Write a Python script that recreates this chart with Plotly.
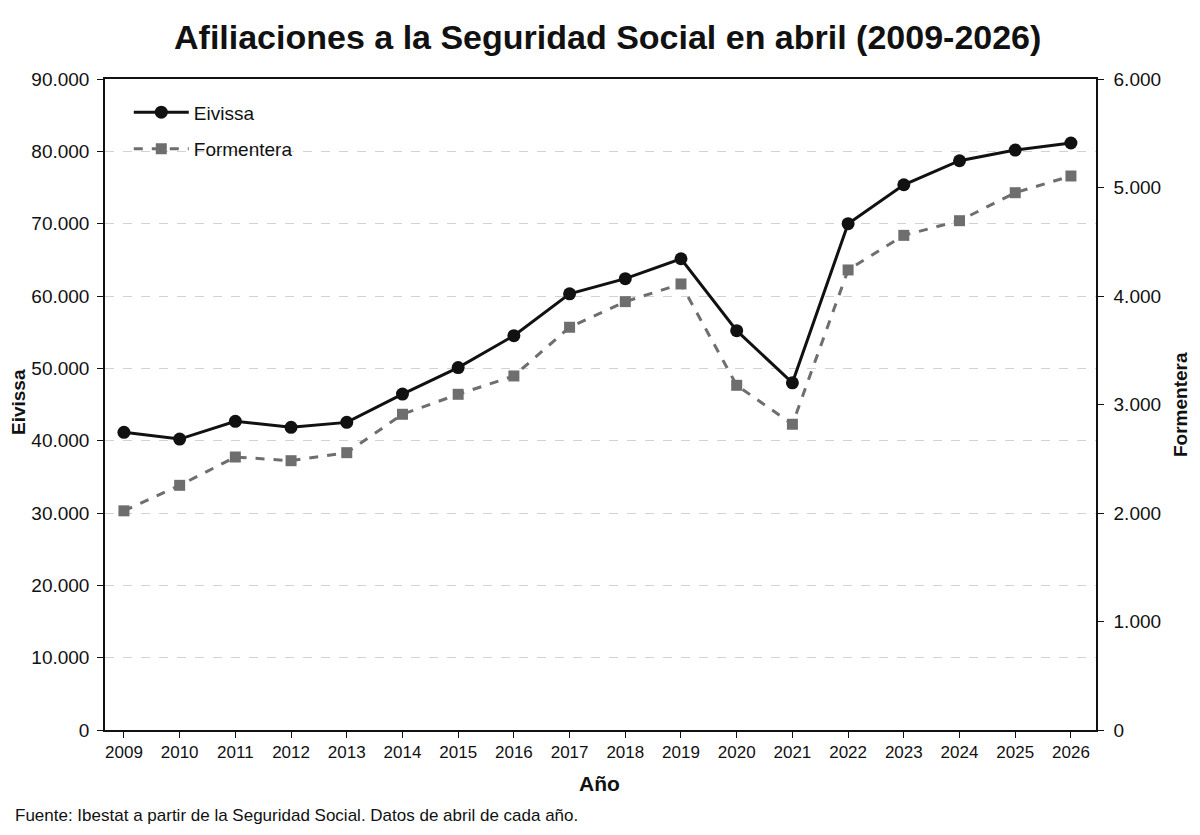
import plotly.graph_objects as go

years = list(range(2009, 2027))
eivissa = [41150, 40220, 42670, 41840, 42530, 46440, 50100, 54520, 60300,
           62400, 65150, 55200, 48000, 70000, 75380, 78700, 80180, 81150]
formentera = [2020, 2255, 2516, 2482, 2556, 2910, 3094, 3263, 3712,
              3948, 4111, 3177, 2818, 4240, 4559, 4694, 4952, 5106]

left_ticks = list(range(0, 90001, 10000))
right_ticks = list(range(0, 6001, 1000))

FONT = "Liberation Sans"
NARROW = "Liberation Sans Narrow, Arial Narrow, Liberation Sans"

fig = go.Figure()
fig.add_trace(go.Scatter(
    x=years, y=eivissa, name="Eivissa", mode="lines+markers",
    legendgroup="a",
    line=dict(color="#111111", width=3),
    marker=dict(symbol="circle", size=13, color="#111111"),
    yaxis="y"))
fig.add_trace(go.Scatter(
    x=years, y=formentera, name="Formentera", mode="lines+markers",
    legendgroup="b",
    line=dict(color="#6e6e6e", width=3, dash="dash"),
    marker=dict(symbol="square", size=11, color="#6e6e6e"),
    yaxis="y2"))

fig.update_layout(
    width=1200, height=835,
    margin=dict(l=105, r=104, t=79, b=105),
    paper_bgcolor="white", plot_bgcolor="white",
    separators=",.",
    showlegend=True,
    legend=dict(x=0.024, y=0.978, xanchor="left", yanchor="top",
                font=dict(family=FONT, size=19, color="#111"),
                bgcolor="rgba(0,0,0,0)", itemwidth=55, tracegroupgap=9),
    xaxis=dict(range=[2008.66, 2026.45], tickvals=years,
               ticktext=[str(y) for y in years],
               ticks="outside", ticklen=6, tickcolor="#111",
               showline=True, linecolor="#111", linewidth=1.5, mirror=True,
               showgrid=False, zeroline=False,
               tickfont=dict(family=NARROW, size=17, color="#111")),
    yaxis=dict(range=[0, 90000], tickvals=left_ticks,
               ticktext=[f"{v:,}".replace(",", ".") for v in left_ticks],
               ticks="outside", ticklen=6, tickcolor="#111",
               ticklabelstandoff=4,
               showline=True, linecolor="#111", linewidth=1.5,
               showgrid=True, gridcolor="#d2d2d2", griddash="dash", gridwidth=1,
               zeroline=False,
               tickfont=dict(family=FONT, size=19, color="#111")),
    yaxis2=dict(range=[0, 6000], tickvals=right_ticks,
                ticktext=[f"{v:,}".replace(",", ".") for v in right_ticks],
                overlaying="y", side="right",
                ticks="outside", ticklen=6, tickcolor="#111",
                ticklabelstandoff=6,
                showline=True, linecolor="#111", linewidth=1.5,
                showgrid=False, zeroline=False,
                tickfont=dict(family=FONT, size=19, color="#111")),
    annotations=[
        dict(text="<b>Afiliaciones a la Seguridad Social en abril (2009-2026)</b>",
             xref="paper", yref="paper", x=(607 - 105) / 991, y=1 + (79 - 37) / 651,
             xanchor="center", yanchor="middle", showarrow=False,
             font=dict(family=FONT, size=34, color="#111")),
        dict(text="<b>Eivissa</b>", xref="paper", yref="paper",
             x=-(105 - 18) / 991, y=(730 - 402) / 651, textangle=-90,
             xanchor="center", yanchor="middle", showarrow=False,
             font=dict(family=FONT, size=19, color="#111")),
        dict(text="<b>Formentera</b>", xref="paper", yref="paper",
             x=1 + (1180 - 1096) / 991, y=(730 - 405) / 651, textangle=-90,
             xanchor="center", yanchor="middle", showarrow=False,
             font=dict(family=FONT, size=19, color="#111")),
        dict(text="<b>Año</b>", xref="paper", yref="paper",
             x=(599 - 105) / 991, y=-(783 - 730) / 651,
             xanchor="center", yanchor="middle", showarrow=False,
             font=dict(family=NARROW, size=21, color="#111")),
        dict(text="Fuente: Ibestat a partir de la Seguridad Social. Datos de abril de cada año.",
             xref="paper", yref="paper", x=-(105 - 13) / 991, y=-(815 - 730) / 651,
             xanchor="left", yanchor="middle", showarrow=False,
             font=dict(family=NARROW, size=17, color="#111")),
    ],
)

fig.write_html("out.html")
